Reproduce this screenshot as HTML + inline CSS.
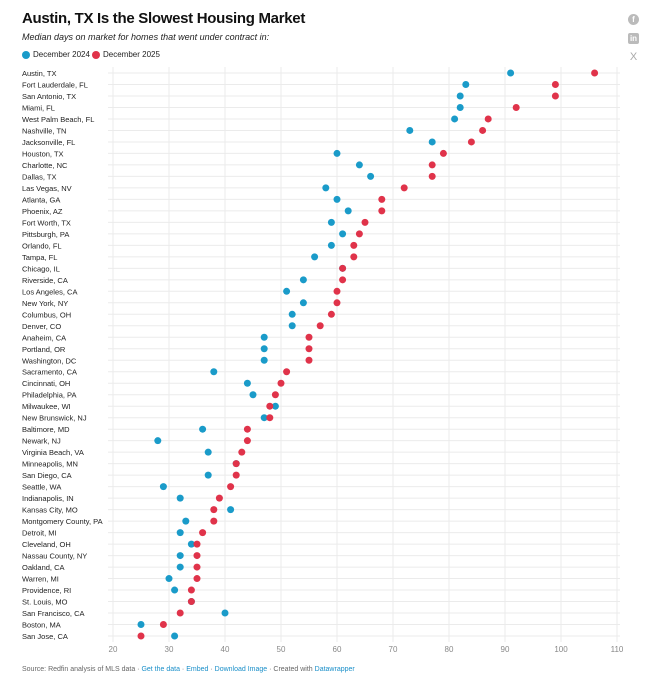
<!DOCTYPE html>
<html><head><meta charset="utf-8"><style>
body{margin:0;width:647px;height:682px;background:#fff;font-family:"Liberation Sans",sans-serif;position:relative;overflow:hidden}
.t{position:absolute;left:22px;top:10px;font-size:15px;font-weight:bold;color:#111;letter-spacing:-0.3px}
.s{position:absolute;left:22px;top:32px;font-size:9px;font-style:italic;color:#222}
.lg{position:absolute;top:50px;font-size:8px;color:#222;display:flex;align-items:center}
.lg i{display:inline-block;width:8px;height:8px;border-radius:50%;margin-right:3px}
.f{position:absolute;left:22px;top:666px;font-size:7px;color:#666}
.f a{color:#1a8fc9;text-decoration:none}
.ic{position:absolute;left:628px;width:11px;height:11px;background:#bbb;border-radius:2px;color:#fff;font-size:8px;text-align:center;line-height:11px;font-weight:bold}
</style></head><body>
<div class="t">Austin, TX Is the Slowest Housing Market</div>
<div class="s">Median days on market for homes that went under contract in:</div>
<div class="lg" style="left:22px"><i style="background:#1a9bc9"></i>December 2024</div>
<div class="lg" style="left:92px"><i style="background:#e0334a"></i>December 2025</div>
<div class="ic" style="top:14px;border-radius:50%">f</div>
<div class="ic" style="top:33px">in</div>
<div class="ic" style="top:52px;background:none;color:#aaa;font-size:11px;font-weight:normal">X</div>
<svg id="c" width="647" height="682" style="position:absolute;left:0;top:0"></svg>
<div class="f">Source: Redfin analysis of MLS data · <a>Get the data</a> · <a>Embed</a> · <a>Download Image</a> · Created with <a>Datawrapper</a></div>
<script>
const cities=["Austin, TX","Fort Lauderdale, FL","San Antonio, TX","Miami, FL","West Palm Beach, FL","Nashville, TN","Jacksonville, FL","Houston, TX","Charlotte, NC","Dallas, TX","Las Vegas, NV","Atlanta, GA","Phoenix, AZ","Fort Worth, TX","Pittsburgh, PA","Orlando, FL","Tampa, FL","Chicago, IL","Riverside, CA","Los Angeles, CA","New York, NY","Columbus, OH","Denver, CO","Anaheim, CA","Portland, OR","Washington, DC","Sacramento, CA","Cincinnati, OH","Philadelphia, PA","Milwaukee, WI","New Brunswick, NJ","Baltimore, MD","Newark, NJ","Virginia Beach, VA","Minneapolis, MN","San Diego, CA","Seattle, WA","Indianapolis, IN","Kansas City, MO","Montgomery County, PA","Detroit, MI","Cleveland, OH","Nassau County, NY","Oakland, CA","Warren, MI","Providence, RI","St. Louis, MO","San Francisco, CA","Boston, MA","San Jose, CA"];
const dec2024=[91,83,82,82,81,73,77,60,64,66,58,60,62,59,61,59,56,61,54,51,54,52,52,47,47,47,38,44,45,49,47,36,28,37,42,37,29,32,41,33,32,34,32,32,30,31,34,40,25,31];
const dec2025=[106,99,99,92,87,86,84,79,77,77,72,68,68,65,64,63,63,61,61,60,60,59,57,55,55,55,51,50,49,48,48,44,44,43,42,42,41,39,38,38,36,35,35,35,35,34,34,32,29,25];
const ticks=[20,30,40,50,60,70,80,90,100,110];
const svg=document.getElementById('c');const NS='http://www.w3.org/2000/svg';
const x=v=>113+(v-20)*5.6;
const y=i=>73+i*11.49;
function mk(t,a){const e=document.createElementNS(NS,t);for(const k in a)e.setAttribute(k,a[k]);svg.appendChild(e);return e;}
ticks.forEach(t=>{
 const l=mk('line',{x1:x(t),x2:x(t),y1:67,y2:642,stroke:'#ebebeb','stroke-width':1});
 
 
 const tx=mk('text',{x:x(t),y:652,'text-anchor':'middle','font-size':8,fill:'#888','font-family':'Liberation Sans, sans-serif'});
 tx.textContent=t;
 
 
});
cities.forEach((c,i)=>{
 const l=mk('line',{x1:108,x2:620,y1:y(i),y2:y(i),stroke:'#ebebeb','stroke-width':1});
 
 
 const tx=mk('text',{x:22,y:y(i)+3,'font-size':7.5,fill:'#222','font-family':'Liberation Sans, sans-serif'});
 tx.textContent=c;
 
 
});
cities.forEach((c,i)=>{
 const b=mk('circle',{cx:x(dec2024[i]),cy:y(i),r:3.5,fill:'#1a9bc9'});
 
 
 const r=mk('circle',{cx:x(dec2025[i]),cy:y(i),r:3.5,fill:'#e0334a'});
 
 
});
</script>
</body></html>
